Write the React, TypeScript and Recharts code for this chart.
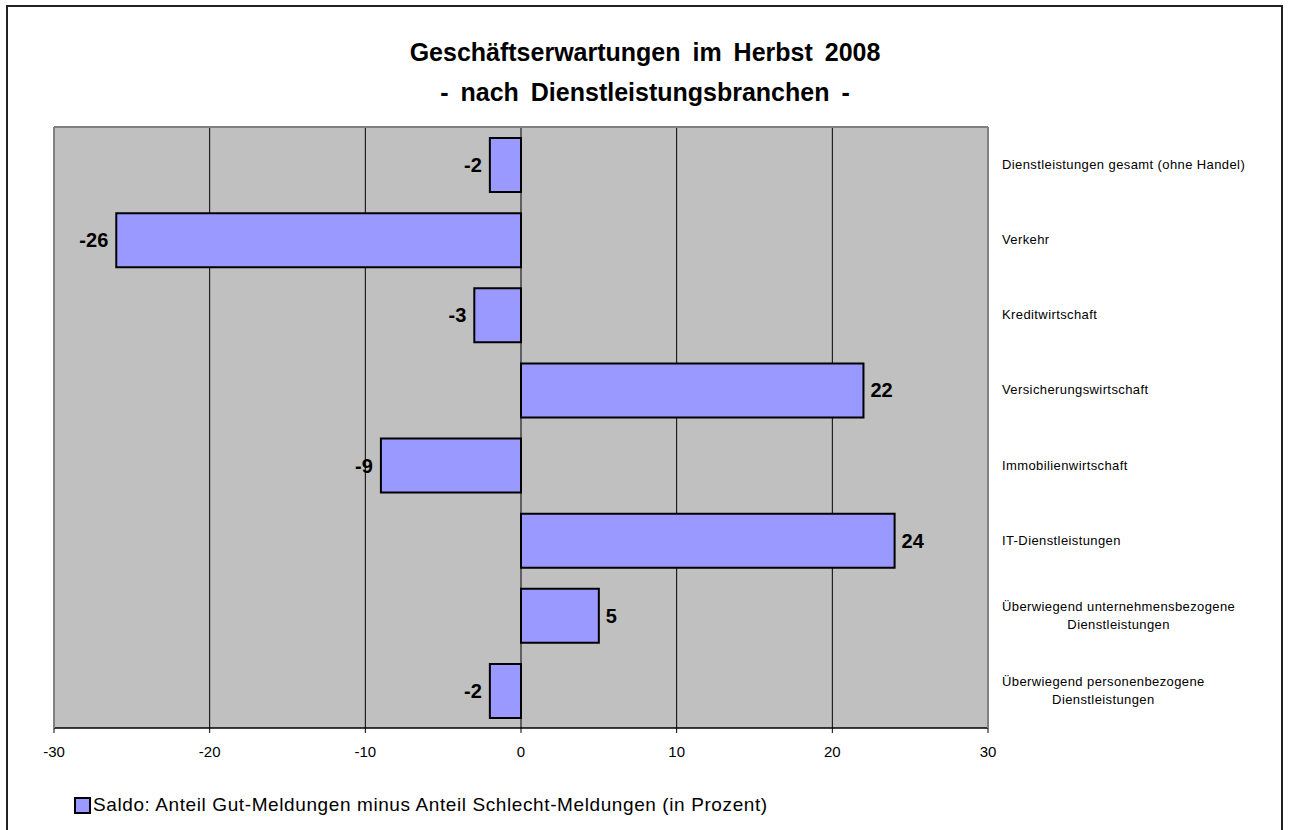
import { Bar, BarChart, CartesianGrid, LabelList, XAxis, YAxis } from "recharts";

const categories = [
  "Dienstleistungen gesamt (ohne Handel)",
  "Verkehr",
  "Kreditwirtschaft",
  "Versicherungswirtschaft",
  "Immobilienwirtschaft",
  "IT-Dienstleistungen",
  "Überwiegend unternehmensbezogene\nDienstleistungen",
  "Überwiegend personenbezogene\nDienstleistungen",
];
const saldo = [-2, -26, -3, 22, -9, 24, 5, -2];
const xTicks = [-30, -20, -10, 0, 10, 20, 30];

const seriesName =
  "Saldo: Anteil Gut-Meldungen minus Anteil Schlecht-Meldungen (in Prozent)";
const barColor = "#9999FF";
const font = "'Liberation Sans', Arial, sans-serif";
const catSpacing = 0.4;

const data = categories.map((name, i) => ({ name, value: saldo[i] }));

let ctx: CanvasRenderingContext2D | null = null;
function textWidth(s: string, f: string) {
  if (!ctx) ctx = document.createElement("canvas").getContext("2d");
  if (!ctx) return s.length * 6.5;
  ctx.font = f;
  return ctx.measureText(s).width + s.length * catSpacing;
}

function CategoryTick(props: any) {
  const { x, y, payload } = props;
  const lines = String(payload.value).split("\n");
  const w = textWidth(lines[0], `13px ${font}`);
  return (
    <g>
      {lines.map((line, i) => (
        <text
          key={i}
          x={x + w / 2}
          y={y + (i - (lines.length - 1) / 2) * 18}
          textAnchor="middle"
          dominantBaseline="central"
          fontSize={13}
          fontFamily={font}
          letterSpacing={catSpacing}
          fill="#000"
        >
          {line}
        </text>
      ))}
    </g>
  );
}

function ValueLabel(props: any) {
  const { x, y, width, height, value } = props;
  const left = Math.min(x, x + width);
  const right = Math.max(x, x + width);
  const neg = value < 0;
  return (
    <text
      x={neg ? left - 8 : right + 7}
      y={y + height / 2}
      textAnchor={neg ? "end" : "start"}
      dominantBaseline="central"
      fontSize={20}
      fontWeight="bold"
      fontFamily={font}
      fill="#000"
    >
      {value}
    </text>
  );
}

export default function App() {
  return (
    <div
      style={{
        position: "absolute",
        left: 0,
        top: 0,
        width: 1290,
        height: 830,
        background: "#fff",
        overflow: "hidden",
        fontFamily: font,
      }}
    >
      <div
        style={{
          position: "absolute",
          left: 6,
          top: 5,
          width: 1273,
          height: 900,
          border: "2px solid #222",
        }}
      />
      <div
        style={{
          position: "absolute",
          left: 0,
          width: 1290,
          top: 32,
          textAlign: "center",
          fontSize: 25,
          fontWeight: "bold",
          lineHeight: "40px",
          wordSpacing: 5,
        }}
      >
        <div>Geschäftserwartungen im Herbst 2008</div>
        <div>- nach Dienstleistungsbranchen -</div>
      </div>

      <div style={{ position: "absolute", left: 0, top: 0 }}>
        <BarChart
          width={1290}
          height={830}
          data={data}
          layout="vertical"
          margin={{ top: 126, right: 12, bottom: 72, left: 53 }}
        >
          <CartesianGrid
            horizontal={false}
            stroke="#000"
            fill="#C0C0C0"
            fillOpacity={1}
          />
          <XAxis
            type="number"
            domain={[-30, 30]}
            ticks={xTicks}
            height={30}
            axisLine={{ stroke: "#000", strokeWidth: 1.5 }}
            tickLine={{ stroke: "#000" }}
            tickSize={5}
            tickMargin={13}
            tick={{ fill: "#000", fontSize: 15, fontFamily: font }}
          />
          <XAxis
            xAxisId="top"
            type="number"
            orientation="top"
            domain={[-30, 30]}
            height={1}
            tick={false}
            tickLine={false}
            axisLine={{ stroke: "#808080", strokeWidth: 2 }}
          />
          <YAxis
            type="category"
            dataKey="name"
            orientation="right"
            width={290}
            axisLine={{ stroke: "#808080", strokeWidth: 2 }}
            tickLine={false}
            tickSize={0}
            tickMargin={14}
            interval={0}
            tick={<CategoryTick />}
          />
          <YAxis
            yAxisId="left"
            type="category"
            dataKey="name"
            orientation="left"
            width={1}
            tick={false}
            tickLine={false}
            axisLine={{ stroke: "#808080", strokeWidth: 2 }}
          />
          <Bar
            dataKey="value"
            fill={barColor}
            stroke="#000"
            strokeWidth={2}
            barSize={54}
            isAnimationActive={false}
          >
            <LabelList dataKey="value" content={<ValueLabel />} />
          </Bar>
        </BarChart>
      </div>

      <div
        style={{
          position: "absolute",
          left: 74,
          top: 792,
          display: "flex",
          alignItems: "center",
          height: 26,
          fontSize: 19,
          letterSpacing: 0.6,
        }}
      >
        <span
          style={{
            display: "inline-block",
            width: 13,
            height: 13,
            background: barColor,
            border: "2px solid #000",
            marginRight: 2,
          }}
        />
        <span>{seriesName}</span>
      </div>
    </div>
  );
}
